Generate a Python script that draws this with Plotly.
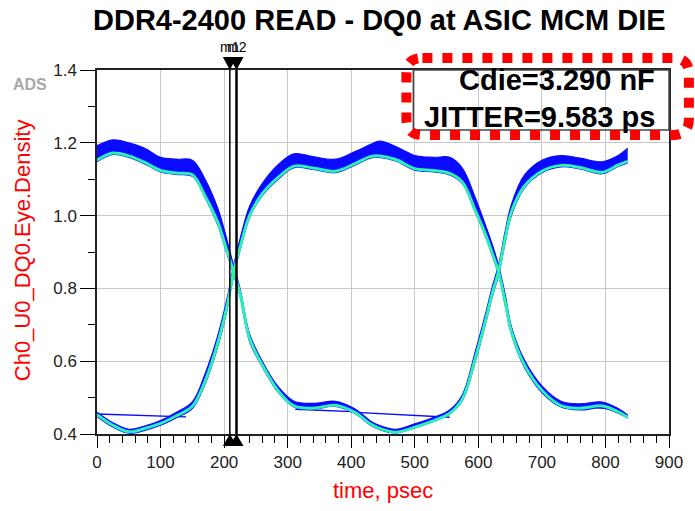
import plotly.graph_objects as go

# ---------------- data ----------------
time_ps = [0, 25, 50, 75, 100, 125, 150, 170, 190, 205, 215, 225, 240, 260, 285, 310, 340, 375, 405,
           430, 445, 470, 500, 530, 555, 575, 595, 612, 622, 632, 642, 652, 672, 700, 730, 760, 795, 820, 835]

# path 1: starts high, falls at ~215 ps, rises at ~632 ps
p1_upper = [1.192, 1.208, 1.200, 1.185, 1.160, 1.155, 1.152, 1.100, 1.020, 0.930, 0.862, 0.800, 0.675, 0.600,
            0.530, 0.490, 0.484, 0.490, 0.470, 0.436, 0.423, 0.413, 0.428, 0.446, 0.466, 0.508, 0.625, 0.735,
            0.805, 0.865, 0.955, 1.030, 1.110, 1.152, 1.165, 1.158, 1.148, 1.165, 1.185]
p1_lower = [1.148, 1.168, 1.160, 1.142, 1.120, 1.113, 1.108, 1.050, 0.975, 0.893, 0.838, 0.780, 0.655, 0.585,
            0.515, 0.474, 0.468, 0.476, 0.457, 0.425, 0.412, 0.403, 0.417, 0.435, 0.455, 0.492, 0.598, 0.708,
            0.778, 0.838, 0.925, 1.000, 1.075, 1.118, 1.134, 1.128, 1.115, 1.135, 1.145]
p1_core = [1.152, 1.172, 1.164, 1.146, 1.124, 1.117, 1.112, 1.054, 0.982, 0.900, 0.846, 0.787, 0.663, 0.590,
           0.519, 0.477, 0.471, 0.479, 0.460, 0.428, 0.415, 0.405, 0.419, 0.437, 0.457, 0.497, 0.607, 0.717,
           0.787, 0.848, 0.936, 1.010, 1.080, 1.122, 1.138, 1.132, 1.119, 1.139, 1.149]

# path 2: starts low, rises at ~215 ps, falls at ~632 ps
p2_upper = [0.460, 0.431, 0.413, 0.422, 0.437, 0.460, 0.488, 0.565, 0.670, 0.775, 0.862, 0.935, 1.025, 1.088,
            1.140, 1.170, 1.162, 1.155, 1.175, 1.195, 1.205, 1.190, 1.165, 1.160, 1.160, 1.130, 1.050, 0.970,
            0.920, 0.862, 0.785, 0.695, 0.605, 0.532, 0.490, 0.483, 0.488, 0.470, 0.452]
p2_lower = [0.448, 0.419, 0.402, 0.410, 0.424, 0.445, 0.470, 0.537, 0.640, 0.745, 0.838, 0.905, 0.995, 1.055,
            1.100, 1.132, 1.127, 1.118, 1.138, 1.158, 1.160, 1.150, 1.125, 1.120, 1.112, 1.088, 1.010, 0.940,
            0.890, 0.838, 0.757, 0.675, 0.585, 0.514, 0.474, 0.466, 0.472, 0.457, 0.444]
p2_core = [0.453, 0.424, 0.406, 0.415, 0.429, 0.450, 0.476, 0.545, 0.650, 0.755, 0.846, 0.912, 1.000, 1.060,
           1.105, 1.136, 1.131, 1.122, 1.142, 1.162, 1.164, 1.154, 1.129, 1.124, 1.116, 1.092, 1.015, 0.945,
           0.896, 0.844, 0.765, 0.682, 0.592, 0.520, 0.478, 0.471, 0.477, 0.461, 0.446]

# straight wrap-around segments near the low level
wrap_t = [[0, 140], [312, 410], [400, 555], [745, 820]]
wrap_v = [[0.455, 0.447], [0.468, 0.461], [0.460, 0.446], [0.477, 0.468]]

marker_names = ["m1", "m2"]
marker_times = [209, 219.5]

x_ticks = [0, 100, 200, 300, 400, 500, 600, 700, 800, 900]
y_ticks = [0.4, 0.6, 0.8, 1.0, 1.2, 1.4]

title_text = "DDR4-2400 READ - DQ0 at ASIC MCM DIE"
x_title = "time, psec"
y_title = "Ch0_U0_DQ0.Eye.Density"
box_lines = ["Cdie=3.290 nF", "JITTER=9.583 ps"]

# ---------------- figure ----------------
FONT = "Liberation Sans, Arial, sans-serif"
BLUE = "#0a0aff"
fig = go.Figure()

for up, lo in [(p1_upper, p1_lower), (p2_upper, p2_lower)]:
    fig.add_trace(go.Scatter(x=time_ps, y=up, mode="lines", line=dict(color=BLUE, width=1.2, shape="spline"),
                             hoverinfo="skip", showlegend=False))
    fig.add_trace(go.Scatter(x=time_ps, y=lo, mode="lines", line=dict(color=BLUE, width=1.2, shape="spline"),
                             fill="tonexty", fillcolor=BLUE, hoverinfo="skip", showlegend=False))

for tt, vv in zip(wrap_t, wrap_v):
    fig.add_trace(go.Scatter(x=tt, y=vv, mode="lines", line=dict(color=BLUE, width=1.3),
                             hoverinfo="skip", showlegend=False))

for core in [p1_core, p2_core]:
    fig.add_trace(go.Scatter(x=time_ps, y=core, mode="lines", line=dict(color="#22e0ff", width=3, shape="spline"),
                             hoverinfo="skip", showlegend=False))
    fig.add_trace(go.Scatter(x=time_ps, y=core, mode="lines", line=dict(color="#3cff5a", width=1.2, shape="spline"),
                             hoverinfo="skip", showlegend=False))

shapes = []
# marker lines and triangles
for i, tm in enumerate(marker_times):
    shapes.append(dict(type="line", xref="x", yref="y", x0=tm, x1=tm, y0=y_ticks[0], y1=y_ticks[-1],
                       line=dict(color="black", width=1.5 if i == 0 else 2.5), layer="above"))
    shapes.append(dict(type="path", xref="x", yref="paper", xsizemode="pixel", ysizemode="pixel",
                       xanchor=tm, yanchor=1, path="M -7 13 L 7 13 L 0 0 Z",
                       fillcolor="black", line=dict(width=0), layer="above"))
    shapes.append(dict(type="path", xref="x", yref="paper", xsizemode="pixel", ysizemode="pixel",
                       xanchor=tm, yanchor=0, path="M -7 -12 L 7 -12 L 0 0 Z",
                       fillcolor="black", line=dict(width=0), layer="above"))

# inner box of the annotation
shapes.append(dict(type="rect", xref="paper", yref="paper", x0=0.553, x1=1.0, y0=0.835, y1=1.0,
                   line=dict(color="#444444", width=1.5), layer="above"))
# red dotted rounded outline
L, R, T, B = 0.5409, 1.0348, 1.033, 0.8214
rx, ry = 0.028, 0.044
path = (f"M {L+rx},{T} L {R-rx},{T} Q {R},{T} {R},{T-ry} L {R},{B+ry} Q {R},{B} {R-rx},{B} "
        f"L {L+rx},{B} Q {L},{B} {L},{B+ry} L {L},{T-ry} Q {L},{T} {L+rx},{T} Z")
shapes.append(dict(type="path", xref="paper", yref="paper", path=path,
                   line=dict(color="#ff0000", width=10, dash="10px,10px"), layer="above"))

annotations = [
    dict(text=f"<b>{title_text}</b>", x=0.494, y=1.137, xref="paper", yref="paper", showarrow=False,
         xanchor="center", yanchor="middle", font=dict(family=FONT, size=29, color="black")),
    dict(text=x_title, x=0.5, y=-0.155, xref="paper", yref="paper", showarrow=False,
         xanchor="center", yanchor="middle", font=dict(family=FONT, size=22, color="#ff0000")),
    dict(text=y_title, x=-0.131, y=0.505, xref="paper", yref="paper", showarrow=False, textangle=-90,
         xanchor="center", yanchor="middle", font=dict(family=FONT, size=22, color="#ff0000")),
    dict(text="<b>ADS</b>", x=-0.118, y=0.959, xref="paper", yref="paper", showarrow=False,
         xanchor="center", yanchor="middle", font=dict(family=FONT, size=16, color="#a8a8a8")),
    dict(text=f"<b>{box_lines[0]}</b>", x=0.979, y=0.9725, xref="paper", yref="paper", showarrow=False,
         xanchor="right", yanchor="middle", font=dict(family=FONT, size=29, color="black")),
    dict(text=f"<b>{box_lines[1]}</b>", x=0.979, y=0.871, xref="paper", yref="paper", showarrow=False,
         xanchor="right", yanchor="middle", font=dict(family=FONT, size=29, color="black")),
]
for name, tm in zip(marker_names, marker_times):
    annotations.append(dict(text=name, x=tm, y=1, xref="x", yref="paper", showarrow=False,
                            xanchor="center", yanchor="bottom", yshift=13,
                            font=dict(family=FONT, size=14, color="black")))

fig.update_layout(
    width=695, height=511,
    margin=dict(l=97, r=23, t=70, b=77),
    paper_bgcolor="white", plot_bgcolor="white",
    shapes=shapes, annotations=annotations,
    showlegend=False,
)
fig.update_xaxes(range=[0, 900], tickvals=x_ticks, showgrid=True, gridcolor="#c8c8c8", gridwidth=1,
                 showline=True, linecolor="#222222", linewidth=1.5, mirror=True,
                 ticks="outside", ticklen=12, tickwidth=1.3, tickcolor="black",
                 minor=dict(dtick=20, ticks="outside", ticklen=7, tickcolor="black", tickwidth=1.3, showgrid=False),
                 tickfont=dict(family=FONT, size=17, color="#222222"), zeroline=False)
fig.update_yaxes(range=[0.4, 1.4], tickvals=y_ticks, tickformat=".1f", showgrid=True, gridcolor="#c8c8c8",
                 gridwidth=1, showline=True, linecolor="#222222", linewidth=1.5, mirror=True,
                 ticks="outside", ticklen=15, tickwidth=1.3, tickcolor="black",
                 minor=dict(dtick=0.1, ticks="outside", ticklen=7, tickcolor="black", tickwidth=1.3, showgrid=False),
                 tickfont=dict(family=FONT, size=17, color="#222222"), zeroline=False)

fig.write_html("out.html")
